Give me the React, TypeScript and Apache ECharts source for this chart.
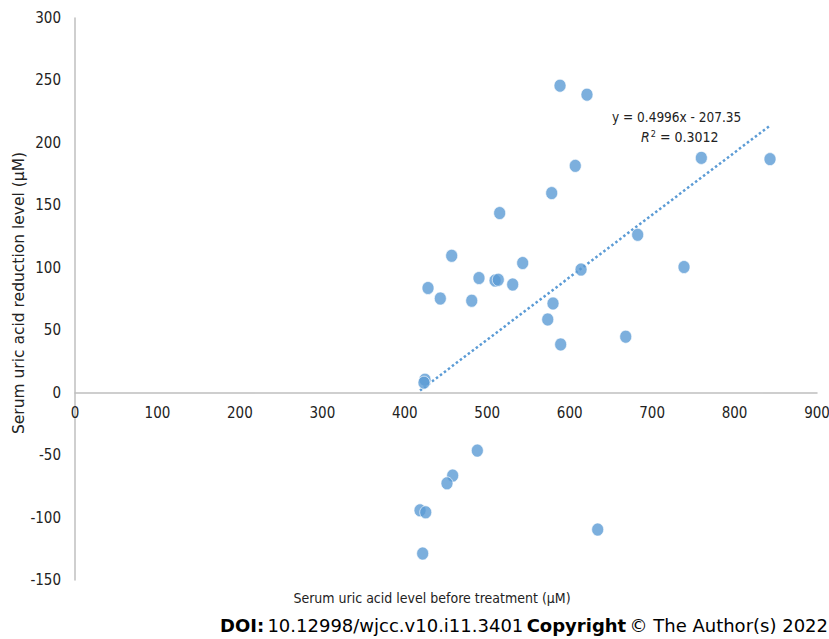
import React, { useEffect, useRef } from "react";
import * as echarts from "echarts";

const xValues = [
  588.3, 621.0, 759.7, 843.0, 606.8, 578.2, 515.1, 682.5, 456.9, 543.0, 738.7,
  613.8, 490.0, 509.5, 513.4, 530.9, 428.2, 443.1, 481.2, 579.8, 573.4, 668.0,
  589.1, 424.5, 423.3, 488.0, 458.1, 451.2, 418.5, 425.4, 634.0, 421.7,
];
const yValues = [
  245.8, 238.6, 188, 187, 181.6, 159.8, 143.8, 126.4, 109.6, 103.8, 100.6, 98.6,
  91.8, 89.8, 90.4, 86.6, 83.8, 75.4, 73.6, 71.4, 58.6, 44.8, 38.6, 10.4, 8.0,
  -46.4, -66.4, -72.6, -94.2, -95.8, -109.6, -128.8,
];
const slope = 0.4996;
const intercept = -207.35;
const rSquared = "0.3012";
const xTicks = { min: 0, max: 900, interval: 100 };
const yTicks = { min: -150, max: 300, interval: 50 };
const xName = "Serum uric acid level before treatment (μM)";
const yName = "Serum uric acid reduction level (μM)";

const FONT_C = "'DejaVu Sans Condensed', 'DejaVu Sans', sans-serif";
const FONT = "'DejaVu Sans', sans-serif";
const BLUE = "#5b9bd5";

export default function App() {
  const ref = useRef<HTMLDivElement>(null);
  useEffect(() => {
    if (!ref.current) return;
    const chart = echarts.init(ref.current, null, { renderer: "svg" });
    const points = xValues.map((x, i) => [x, yValues[i]]);
    const xMin = Math.min(...xValues);
    const xMax = Math.max(...xValues);
    const trend = [
      [xMin, slope * xMin + intercept],
      [xMax, slope * xMax + intercept],
    ];
    chart.setOption({
      animation: false,
      backgroundColor: "#ffffff",
      textStyle: { fontFamily: FONT_C },
      grid: { left: 75, right: 12, top: 18, bottom: 59, containLabel: false, outerBoundsMode: "none" },
      xAxis: {
        type: "value",
        min: xTicks.min,
        max: xTicks.max,
        interval: xTicks.interval,
        axisLine: { onZero: true, lineStyle: { color: "#bfbfbf", width: 1.5 } },
        axisTick: { show: false },
        splitLine: { show: false },
        axisLabel: { color: "#222", fontSize: 15, margin: -175, fontFamily: FONT_C },
        name: xName,
        nameLocation: "middle",
        nameGap: 11,
        nameMoveOverlap: false,
        nameTextStyle: { color: "#222", fontSize: 14, fontFamily: FONT_C, padding: [0, 28, 0, 0] },
      },
      yAxis: {
        type: "value",
        min: yTicks.min,
        max: yTicks.max,
        interval: yTicks.interval,
        axisLine: { show: true, lineStyle: { color: "#bfbfbf", width: 1.5 } },
        axisTick: { show: false },
        splitLine: { show: false },
        axisLabel: { color: "#222", fontSize: 15, margin: 14, fontFamily: FONT_C },
        name: yName,
        nameLocation: "middle",
        nameGap: 48,
        nameMoveOverlap: false,
        nameTextStyle: { color: "#222", fontSize: 15.5, fontFamily: FONT, padding: [0, 0, 0, 12] },
      },
      series: [
        {
          type: "line",
          data: trend,
          symbol: "none",
          z: 1,
          lineStyle: { color: BLUE, width: 2.5, type: [2.5, 2.5] },
        },
        {
          type: "scatter",
          data: points,
          symbol: "circle",
          symbolSize: [12, 13],
          z: 2,
          itemStyle: { color: BLUE, borderColor: "#ffffff", borderWidth: 0.8 },
        },
      ],
      graphic: [
        {
          type: "text",
          left: 612,
          top: 110,
          style: {
            text: "y = 0.4996x - 207.35",
            fill: "#222",
            font: `13.5px ${FONT_C}`,
          },
        },
        {
          type: "text",
          left: 641,
          top: 129,
          style: {
            text: `{i|R}{s|2}{n| = ${rSquared}}`,
            fill: "#222",
            rich: {
              i: { fontStyle: "italic", fontSize: 14, fontFamily: FONT_C, fill: "#222" },
              s: { fontSize: 9, fontFamily: FONT_C, verticalAlign: "top", fill: "#222", padding: [0, 0, 6, 1] },
              n: { fontSize: 14, fontFamily: FONT_C, fill: "#222" },
            },
          },
        },
        {
          type: "text",
          right: 1,
          top: 616,
          style: {
            text: "{b|DOI:} {r|10.12998/wjcc.v10.i11.3401} {b|Copyright} {r|© The Author(s) 2022}",
            rich: {
              b: { fontWeight: "bold", fontSize: 18, fontFamily: FONT, fill: "#000" },
              r: { fontSize: 18, fontFamily: FONT, fill: "#000" },
            },
          },
        },
      ],
    });
    return () => chart.dispose();
  }, []);
  return (
    <div
      ref={ref}
      style={{ position: "fixed", left: 0, top: 0, width: 829, height: 639, background: "#fff" }}
    />
  );
}
